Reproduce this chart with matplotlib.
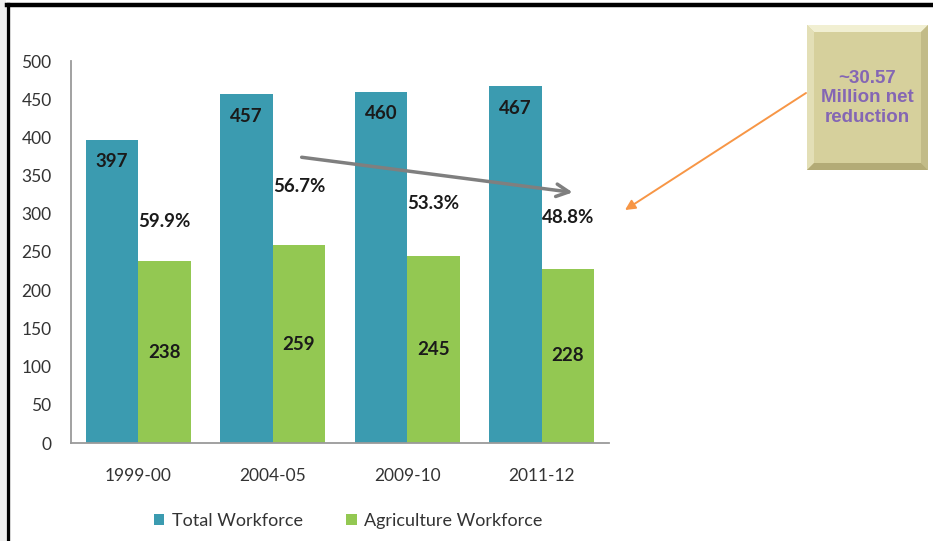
import matplotlib
matplotlib.use("Agg")
import matplotlib.pyplot as plt
from matplotlib.patches import Rectangle, Polygon
from matplotlib.lines import Line2D
import numpy as np

years = ['1999-00', '2004-05', '2009-10', '2011-12']
total_workforce = [397, 457, 460, 467]
agri_workforce = [238, 259, 245, 228]
agri_share = [59.9, 56.7, 53.3, 48.8]
note_text = '~30.57\nMillion net\nreduction'

# where the share labels sit (data units)
share_label_y = [290, 336, 314, 295]

teal = '#3b9bb0'
green = '#93c852'
W, H = 933, 541

plt.rcParams['font.family'] = ['Lato', 'DejaVu Sans']
fig = plt.figure(figsize=(W / 100, H / 100), dpi=100)
fig.patch.set_facecolor('white')


def fx(px):
    return px / W


def fy(py):
    # py measured from top of the image
    return 1 - py / H


# outer frame: gray strip at the far left plus black border
fig.add_artist(Rectangle((0, 0), fx(6), 1, transform=fig.transFigure,
                         facecolor='#eeeeee', edgecolor='none'))
fig.add_artist(Line2D([fx(8), fx(8)], [0, fy(4)], transform=fig.transFigure,
                      color='black', lw=2.4))
fig.add_artist(Line2D([fx(7), 1], [fy(4.5), fy(4.5)], transform=fig.transFigure,
                      color='black', lw=3.2))

ax = fig.add_axes([fx(71), fy(443), fx(609) - fx(71), fy(61) - fy(443)])
x = np.arange(len(years))
bw = 0.39
ax.bar(x - bw / 2, total_workforce, bw, color=teal, label='Total Workforce')
ax.bar(x + bw / 2, agri_workforce, bw, color=green, label='Agriculture Workforce')

ax.set_xlim(-0.5, 3.5)
ax.set_ylim(0, 500)
ax.set_yticks(range(0, 501, 50))
ax.set_xticks(x)
ax.set_xticklabels(years)
for s in ['top', 'right']:
    ax.spines[s].set_visible(False)
for s in ['left', 'bottom']:
    ax.spines[s].set_color('#9a9a9a')
    ax.spines[s].set_linewidth(1.3)
ax.tick_params(axis='both', length=0, labelsize=12.5, colors='#333333')
ax.tick_params(axis='y', pad=14)
ax.tick_params(axis='x', pad=18)

lbl = dict(ha='center', va='center', fontsize=13.5, fontweight='bold', color='#1a1a1a')
for i in range(len(years)):
    ax.text(x[i] - bw / 2, total_workforce[i] - 29, str(total_workforce[i]), **lbl)
    ax.text(x[i] + bw / 2, agri_workforce[i] / 2, str(agri_workforce[i]), **lbl)
    ax.text(x[i] + bw / 2, share_label_y[i], f'{agri_share[i]:.1f}%', **lbl)

# falling share trend arrow
ax.annotate('', xy=(3.23, 328), xytext=(1.215, 374),
            arrowprops=dict(arrowstyle='->,head_length=0.9,head_width=0.45',
                            color='#7f7f7f', lw=2.5, shrinkA=0, shrinkB=0),
            annotation_clip=False)

# beveled note box
bx0, bx1, by0, by1 = fx(807), fx(928), fy(170), fy(25)
bev_x, bev_y = fx(7), 7 / H
fig.add_artist(Rectangle((bx0, by0), bx1 - bx0, by1 - by0, transform=fig.transFigure,
                         facecolor='#d6d09c', edgecolor='none'))
ix0, ix1, iy0, iy1 = bx0 + bev_x, bx1 - bev_x, by0 + bev_y, by1 - bev_y
sides = [
    ([(bx0, by1), (bx1, by1), (ix1, iy1), (ix0, iy1)], '#f1efd2'),
    ([(bx0, by0), (bx0, by1), (ix0, iy1), (ix0, iy0)], '#e3dfb6'),
    ([(bx1, by0), (bx1, by1), (ix1, iy1), (ix1, iy0)], '#c2bb88'),
    ([(bx0, by0), (bx1, by0), (ix1, iy0), (ix0, iy0)], '#b3ab76'),
]
for pts, c in sides:
    fig.add_artist(Polygon(pts, closed=True, transform=fig.transFigure,
                           facecolor=c, edgecolor='none'))
fig.text((bx0 + bx1) / 2, fy(98), note_text, ha='center', va='center',
         fontsize=13.5, fontweight='bold', color='#8466b4', family='Liberation Sans',
         linespacing=1.2)

# pointer from the note box to the last share label
ax.annotate('', xy=(fx(625), fy(210)), xycoords='figure fraction',
            xytext=(fx(806), fy(93)), textcoords='figure fraction',
            arrowprops=dict(arrowstyle='-|>,head_length=0.6,head_width=0.3',
                            color='#f79646', lw=1.4, shrinkA=0, shrinkB=0),
            annotation_clip=False)

leg = fig.legend(loc='center', bbox_to_anchor=(fx(348), fy(521)), ncol=2,
                 frameon=False, fontsize=13, handlelength=0.6, handleheight=0.6,
                 handletextpad=0.4, columnspacing=2.4)
for t in leg.get_texts():
    t.set_color('#333333')

fig.savefig('out.png', dpi=100)
